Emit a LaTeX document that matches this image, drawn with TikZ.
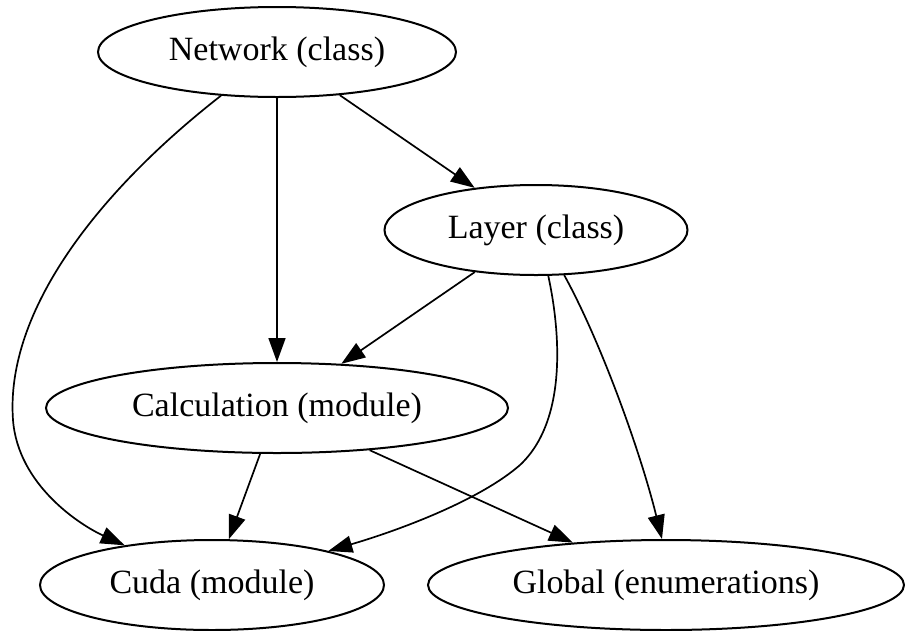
\documentclass[tikz,border=0pt]{standalone}
\usepackage{fontspec}
\setmainfont{Liberation Serif}
\usepackage{tikz}
\usetikzlibrary{shapes.geometric, arrows.meta}
\tikzstyle{arrow} = [line width=1.7pt,-{Triangle[length=24pt,width=17pt]}]
\tikzstyle{unit} = [ellipse, draw, line width=2pt, inner sep=0pt, minimum height=90pt, font=\fontsize{34}{40}\selectfont]

\begin{document}
\begin{tikzpicture}[x=1pt,y=-1pt]
\useasboundingbox (0,0) rectangle (905,630);

% Nodes:
% placed at pixel positions of the layout
\node[unit, minimum width=358pt] (network) at (277,52)  {Network (class)};
\node[unit, minimum width=303pt] (layer)   at (536,230) {Layer (class)};
\node[unit, minimum width=462pt] (calc)    at (277,408) {Calculation (module)};
\node[unit, minimum width=344pt] (cuda)    at (212,585) {Cuda (module)};
\node[unit, minimum width=476pt] (global)  at (666,585) {Global (enumerations)};

% Edges:
\draw[arrow] (network) -- (layer);
\draw[arrow] (network) -- (calc);
\draw[arrow] (network) .. controls (100,190) and (5,310) .. (13,420)
                       .. controls (18,485) and (80,525) .. (cuda);
\draw[arrow] (layer) -- (calc);
\draw[arrow] (layer.-75) .. controls (560,330) and (568,420) .. (520,465)
                         .. controls (480,500) and (400,530) .. (cuda);
\draw[arrow] (layer.-58) .. controls (600,340) and (640,450) .. (global.95);
\draw[arrow] (calc) -- (cuda);
\draw[arrow] (calc) -- (global);
\end{tikzpicture}
\end{document}
